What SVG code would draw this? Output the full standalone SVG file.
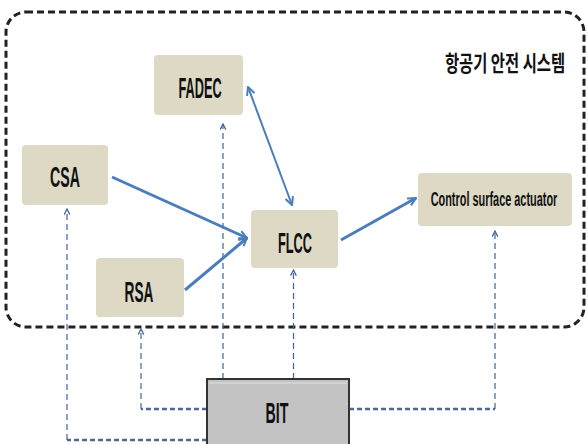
<svg xmlns="http://www.w3.org/2000/svg" width="588" height="444" viewBox="0 0 588 444">
<defs>
<style>
.node{fill:#ddd9c4;}
.lbl{font-family:"Liberation Sans",Arial,sans-serif;font-weight:bold;fill:#111;text-anchor:middle;font-size:29px;}
.small{font-size:21px;}
.solid{stroke:#4a7ebb;fill:none;stroke-width:3;}
.thin{stroke:#4a7ebb;fill:none;stroke-width:2;}
.dash{stroke:#3f6699;fill:none;stroke-width:1.2;stroke-dasharray:6 4;}
.hdash{stroke:#4d6a92;fill:none;stroke-width:2.5;stroke-dasharray:5 3;}
</style>
<marker id="ah" viewBox="0 0 10 10" refX="9" refY="5" markerWidth="10" markerHeight="10" markerUnits="userSpaceOnUse" orient="auto-start-reverse">
<path d="M1,1 L9,5 L1,9" fill="none" stroke="#4a7ebb" stroke-width="2"/>
</marker>
<marker id="ahs" viewBox="0 0 10 10" refX="9" refY="5" markerWidth="7" markerHeight="7" markerUnits="userSpaceOnUse" orient="auto">
<path d="M1,1 L9,5 L1,9" fill="none" stroke="#3f6699" stroke-width="1.8"/>
</marker>
</defs>
<rect width="588" height="444" fill="#fff"/>
<rect id="boundary" x="6" y="12" width="578" height="315" rx="20" fill="none" stroke="#222" stroke-width="3" stroke-dasharray="7 4"/>
<text transform="translate(505,71) scale(0.7,1)" x="0" y="0" font-family="'Noto Sans CJK KR',sans-serif" font-weight="bold" font-size="22" text-anchor="middle" fill="#111">항공기 안전 시스템</text>

<g id="connectors">
<path class="hdash" d="M207,409 H141"/>
<path class="dash" d="M141,409 V329" marker-end="url(#ahs)"/>
<path class="hdash" d="M207,440 H67"/>
<path class="dash" d="M67,440 V209" marker-end="url(#ahs)"/>
<path class="hdash" d="M349,409 H495"/>
<path class="dash" d="M495,409 V231" marker-end="url(#ahs)"/>
<path class="dash" d="M223,379 V124" marker-end="url(#ahs)"/>
<path class="dash" d="M293.5,379 V270" marker-end="url(#ahs)"/>
<path class="solid" d="M112,177 L247,238" marker-end="url(#ah)"/>
<path class="solid" d="M185,290 L247,238" marker-end="url(#ah)"/>
<path class="solid" d="M341,240 L416,198" marker-end="url(#ah)"/>
<path class="thin" d="M248,87 L292,205" marker-start="url(#ah)" marker-end="url(#ah)"/>
</g>

<g id="FADEC">
<rect class="node" x="154" y="55" width="89" height="60" rx="4"/>
<text class="lbl" transform="translate(200,98) scale(0.44,1)" x="0" y="0">FADEC</text>
</g>
<g id="CSA">
<rect class="node" x="22" y="145" width="86" height="60" rx="4"/>
<text class="lbl" transform="translate(65,187) scale(0.49,1)" x="0" y="0">CSA</text>
</g>
<g id="FLCC">
<rect class="node" x="251" y="210" width="87" height="58" rx="4"/>
<text class="lbl" transform="translate(295,253) scale(0.44,1)" x="0" y="0">FLCC</text>
</g>
<g id="RSA">
<rect class="node" x="96" y="258" width="88" height="59" rx="4"/>
<text class="lbl" transform="translate(139,302) scale(0.47,1)" x="0" y="0">RSA</text>
</g>
<g id="CSAct">
<rect class="node" x="418" y="173" width="154" height="53" rx="4"/>
<text class="lbl small" transform="translate(494,206) scale(0.52,1)" x="0" y="0">Control surface actuator</text>
</g>
<g id="BIT">
<rect x="207" y="379" width="142" height="70" fill="#c3c3c3" stroke="#333" stroke-width="2"/>
<line x1="209" y1="383" x2="347" y2="383" stroke="#e0e0e0" stroke-width="1"/>
<text class="lbl" transform="translate(277,423) scale(0.49,1)" x="0" y="0">BIT</text>
</g>
</svg>
